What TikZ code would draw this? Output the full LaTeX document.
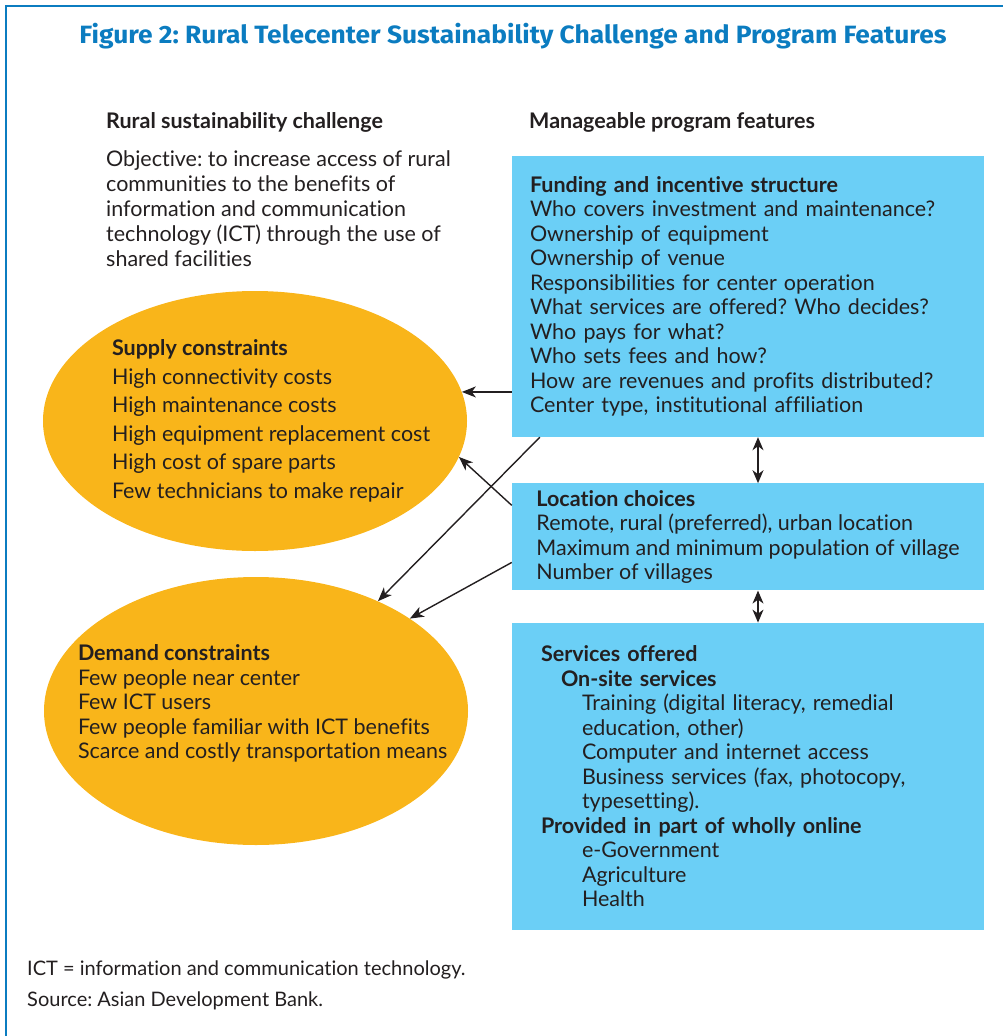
\documentclass[tikz,border=0pt]{standalone}
\usepackage{fontspec}
\usepackage{graphicx}
\setmainfont{Lato}[Ligatures=NoCommon]
\newfontfamily\titlefont{Fira Sans}
\usetikzlibrary{arrows.meta,positioning,shapes.geometric}
\definecolor{adbBlue}{HTML}{0B7CC0}
\definecolor{boxBlue}{HTML}{6BCFF6}
\definecolor{consOrange}{HTML}{F9B51A}
\definecolor{inkDark}{HTML}{231F20}
\frenchspacing

\begin{document}
\begin{tikzpicture}[x=1pt, y=-1pt,
     every node/.style={text=inkDark},
     feat/.style={fill=boxBlue, align=left, inner ysep=0pt,
                  font=\fontsize{21.5}{24.5}\selectfont},
     cons/.style={ellipse, fill=consOrange, minimum width=424pt, minimum height=260pt},
     body/.style={align=left, inner sep=0pt, font=\fontsize{21.5}{24.5}\selectfont},
     head/.style={inner sep=0pt, font=\fontsize{21.5}{24}\selectfont\bfseries},
     note/.style={inner sep=0pt, font=\fontsize{20}{22}\selectfont},
     arr/.style={-{Stealth[length=14pt, width=11pt, inset=4pt]}, line width=1.4pt, draw=inkDark},
     dbl/.style={{Stealth[length=13pt, width=11pt, inset=4pt]}-{Stealth[length=13pt, width=11pt, inset=4pt]},
                 line width=1.4pt, draw=inkDark}]
  \useasboundingbox (0,0) rectangle (1003,1036);
  % frame
  \draw[adbBlue, line width=2pt] (1003,6) -- (6,6) -- (6,1036);
  \node[text=adbBlue, inner sep=0pt, font=\titlefont\fontsize{25}{30}\selectfont\bfseries] (ttl) at (513,36)
    {\resizebox{867pt}{\height}{Figure 2: Rural Telecenter Sustainability Challenge and Program Features}};

  % column heads
  \node[head, anchor=base west] (chal) at (106,128) {Rural sustainability challenge};
  \node[head, anchor=base west] (manage) at (529,128) {Manageable program features};
  \node[body, anchor=north west, font=\fontsize{21.5}{25}\selectfont] (obj) at (106,150)
    {Objective: to increase access of rural\\
     communities to the benefits of\\ information and communication\\
     technology (ICT) through the use of\\ shared facilities};

  % program features
  \node[feat, text width=436pt, inner xsep=18pt, minimum height=281pt] (fund) at (748,296.5)
    {\textbf{Funding and incentive structure}\\
     Who covers investment and maintenance?\\
     Ownership of equipment\\
     Ownership of venue\\
     Responsibilities for center operation\\
     What services are offered? Who decides?\\
     Who pays for what?\\
     Who sets fees and how?\\
     How are revenues and profits distributed?\\
     Center type, institutional affiliation};
  \node[feat, inner xsep=0pt, minimum width=472pt, minimum height=107pt, below=46pt of fund] (loc)
    {\textbf{Location choices}\\
     Remote, rural (preferred), urban location\\
     Maximum and minimum population of village\\
     Number of villages};
  \node[feat, text width=414pt, inner xsep=29pt, minimum height=307pt, below=32pt of loc] (serv)
    {\textbf{Services offered}\\
     \hspace*{20pt}\textbf{On-site services}\\
     \hspace*{41pt}Training (digital literacy, remedial\\
     \hspace*{41pt}education, other)\\
     \hspace*{41pt}Computer and internet access\\
     \hspace*{41pt}Business services (fax, photocopy,\\
     \hspace*{41pt}typesetting).\\
     \textbf{Provided in part of wholly online}\\
     \hspace*{41pt}e-Government\\
     \hspace*{41pt}Agriculture\\
     \hspace*{41pt}Health};

  % constraints
  \node[cons] (supply) at (255,421) {};
  \node[cons, minimum height=268pt] (demand) at (256,711) {};
  \node[body, anchor=west, font=\fontsize{21.5}{28.5}\selectfont] (supplytxt) at ([xshift=69pt]supply.west)
    {\textbf{Supply constraints}\\
     High connectivity costs\\
     High maintenance costs\\
     High equipment replacement cost\\
     High cost of spare parts\\
     Few technicians to make repair};
  \node[body, anchor=west] (demandtxt) at ([xshift=34pt, yshift=7.5pt]demand.west)
    {\textbf{Demand constraints}\\
     Few people near center\\
     Few ICT users\\
     Few people familiar with ICT benefits\\
     Scarce and costly transportation means};

  \draw[arr] (fund.west |- supply.8) -- (supply.8);
  \draw[arr] ([yshift=31.5pt]loc.west) -- (supply.-10);
  \draw[arr] ([xshift=28pt]fund.south west) -- (demand.42);
  \draw[arr] ([yshift=-25.5pt]loc.west) -- (demand.31);
  \draw[dbl] ([xshift=10pt]fund.south) -- ([xshift=10pt]loc.north);
  \draw[dbl] ([xshift=10pt]loc.south) -- ([xshift=10pt]serv.north);

  % notes
  \node[note, anchor=base west] (ict) at (27,975) {ICT = information and communication technology.};
  \node[note, anchor=base west] (src) at (27,1006) {Source: Asian Development Bank.};
\end{tikzpicture}
\end{document}
